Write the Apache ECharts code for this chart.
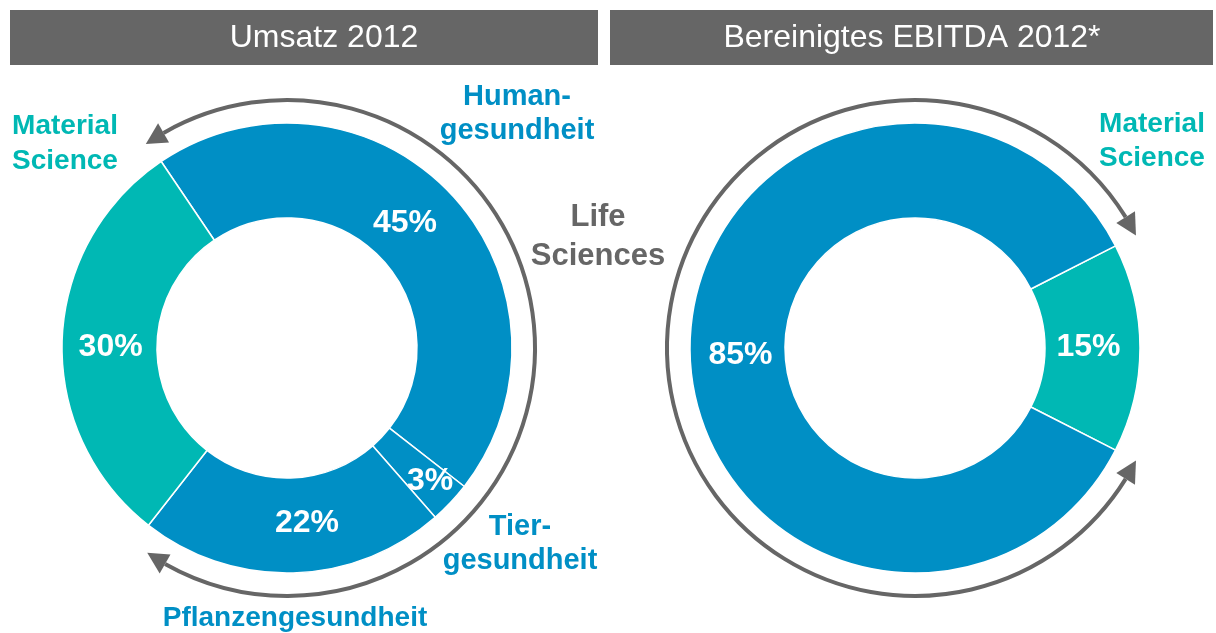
<!DOCTYPE html>
<html>
<head>
<meta charset="utf-8">
<script src="https://cdn.jsdelivr.net/npm/echarts@6/dist/echarts.min.js"></script>
<style>
  html, body { margin: 0; background: #fff; }
  #main { width: 1216px; height: 633px; }
</style>
</head>
<body>
<div id="main"></div>
<script>
// Umsatz 2012 (Anteile in %)
var umsatzNames = ['Humangesundheit', 'Tiergesundheit', 'Pflanzengesundheit', 'Material Science'];
var umsatzValues = [45, 3, 22, 30];
// Bereinigtes EBITDA 2012 (Anteile in %)
var ebitdaNames = ['Material Science', 'Life Sciences'];
var ebitdaValues = [15, 85];

var titles = ['Umsatz 2012', 'Bereinigtes EBITDA 2012*'];

var BLUE = '#008FC5';
var TEAL = '#00B8B4';
var GREY = '#666666';
var FONT = '"Liberation Sans", Arial, sans-serif';

var leftC = [287, 348], rightC = [915, 348];
var ringR = [130, 225], arrowR = 248;

// kleine verschiebungen der prozent-labels wie im original
var umsatzLabelShift = [[-14, -2], [12, 9], [15, -5], [4, 5]];
var ebitdaLabelShift = [[-7, -1], [6, 7]];

function colorOf(name) {
    return name === 'Material Science' ? TEAL : BLUE;
}

function pieData(names, values, shifts) {
    return names.map(function (n, i) {
        return {
            name: n,
            value: values[i],
            itemStyle: { color: colorOf(n) },
            label: { offset: shifts[i] }
        };
    });
}

// punkt auf kreis, winkel im uhrzeigersinn ab 12 uhr
function toXY(c, r, deg) {
    var a = deg * Math.PI / 180;
    return [c[0] + r * Math.sin(a), c[1] - r * Math.cos(a)];
}

// bogen mit pfeilspitzen an beiden enden
function arrowArc(c, r, fromDeg, toDeg) {
    var len = 21, half = 11;
    var dA = len / r * 180 / Math.PI;
    var els = [{
        type: 'arc',
        shape: {
            cx: c[0], cy: c[1], r: r,
            startAngle: (fromDeg + dA - 90) * Math.PI / 180,
            endAngle: (toDeg - dA - 90) * Math.PI / 180,
            clockwise: true
        },
        style: { stroke: GREY, lineWidth: 4, fill: null }
    }];
    [[fromDeg, fromDeg + dA], [toDeg, toDeg - dA]].forEach(function (p) {
        var tip = toXY(c, r, p[0]);
        var b1 = toXY(c, r + half, p[1]);
        var b2 = toXY(c, r - half, p[1]);
        els.push({ type: 'polygon', shape: { points: [tip, b1, b2] }, style: { fill: GREY } });
    });
    return els;
}

function label(text, x, y, color, size, lh) {
    return {
        type: 'text',
        x: x, y: y,
        style: {
            text: text,
            fill: color,
            font: 'bold ' + size + 'px ' + FONT,
            textAlign: 'center',
            textVerticalAlign: 'middle',
            lineHeight: lh
        }
    };
}

function header(text, x, w, tx) {
    return [{
        type: 'rect',
        shape: { x: x, y: 10, width: w, height: 55 },
        style: { fill: GREY }
    }, {
        type: 'text',
        x: tx, y: 38,
        style: {
            text: text, fill: '#fff',
            font: '32px ' + FONT,
            textAlign: 'center', textVerticalAlign: 'middle'
        }
    }];
}

var pieLabel = {
    show: true,
    position: 'inside',
    formatter: '{c}%',
    color: '#fff',
    fontFamily: FONT,
    fontWeight: 'bold',
    fontSize: 32
};

var graphics = []
    .concat(header(titles[0], 10, 588, 324))
    .concat(header(titles[1], 610, 603, 912))
    .concat(arrowArc(leftC, arrowR, -34.7, 214.3))
    .concat(arrowArc(rightC, arrowR, 117, 423))
    .concat([
        label('Material\nScience', 65, 144, TEAL, 28, 35),
        label('Human-\ngesundheit', 517, 114, BLUE, 29, 34),
        label('Tier-\ngesundheit', 520, 544, BLUE, 29, 34),
        label('Pflanzengesundheit', 295, 618, BLUE, 28, 34),
        label('Life\nSciences', 598, 237, GREY, 31, 39),
        label('Material\nScience', 1152, 141, TEAL, 28, 34)
    ]);

var chart = echarts.init(document.getElementById('main'));
chart.setOption({
    animation: false,
    backgroundColor: '#fff',
    graphic: graphics,
    series: [
        {
            type: 'pie',
            center: leftC,
            radius: ringR,
            startAngle: 124,
            clockwise: true,
            avoidLabelOverlap: false,
            label: pieLabel,
            labelLine: { show: false },
            itemStyle: { borderColor: '#fff', borderWidth: 1.5 },
            data: pieData(umsatzNames, umsatzValues, umsatzLabelShift)
        },
        {
            type: 'pie',
            center: rightC,
            radius: ringR,
            startAngle: 27,
            clockwise: true,
            avoidLabelOverlap: false,
            label: pieLabel,
            labelLine: { show: false },
            itemStyle: { borderColor: '#fff', borderWidth: 1.5 },
            data: pieData(ebitdaNames, ebitdaValues, ebitdaLabelShift)
        }
    ]
});
</script>
</body>
</html>
